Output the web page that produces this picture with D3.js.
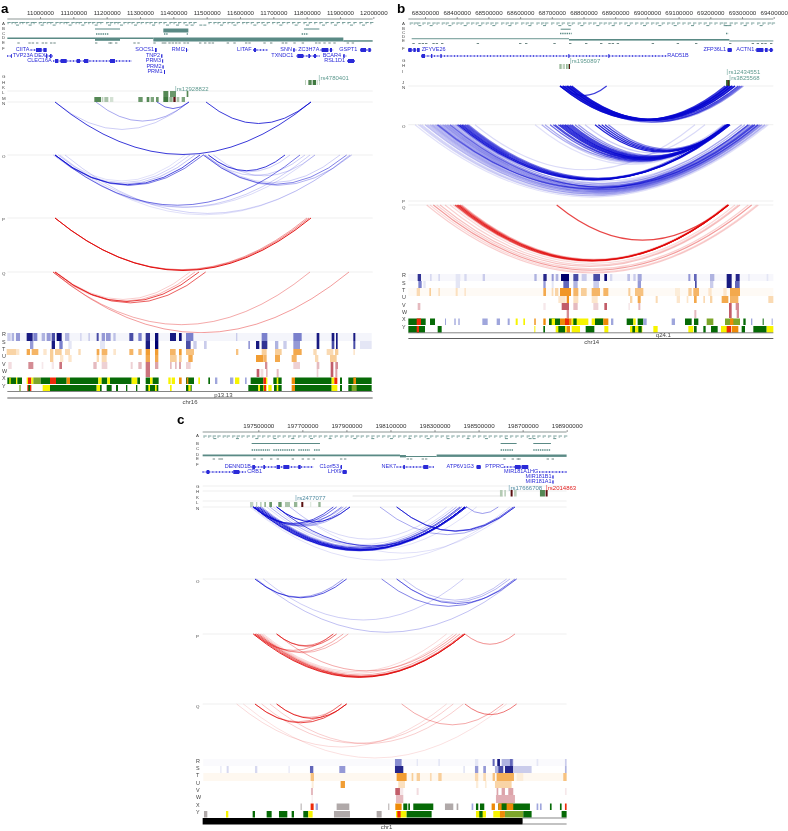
<!DOCTYPE html>
<html><head><meta charset="utf-8">
<style>html,body{margin:0;padding:0;background:#fff}svg{display:block;filter:blur(.3px)}text{font-family:"Liberation Sans",Arial,sans-serif}.soft{filter:blur(.45px)}</style>
<script src="https://cdnjs.cloudflare.com/ajax/libs/d3/7.8.5/d3.min.js"></script></head><body>
<script>
// positions below are bins along each region; bin -> base pair through scales
const tickLabelsA=[11000000,11100000,11200000,11300000,11400000,11500000,11600000,11700000,11800000,11900000,12000000];
const tickLabelsB=[68300000,68400000,68500000,68600000,68700000,68800000,68900000,69000000,69100000,69200000,69300000,69400000];
const tickLabelsC=[197500000,197700000,197900000,198100000,198300000,198500000,198700000,198900000];

// arcs: [startBin,endBin,strength]
const arcsAN=[[165,933,.8],[618,933,.8],[288,567,.35],[165,567,.2],[471,567,.6]];
const arcsAO=[[165,600,.75],[165,610,.55],[160,585,.25],[165,570,.18],[175,555,.12],[625,855,.8],[625,870,.2],[610,1040,.5],[610,1055,.3],[615,1020,.2],[165,900,.55],[165,930,.2],[180,945,.15],[195,1050,.18],[175,1050,.12],[640,945,.2],[615,915,.2]];
const arcsAP=[[165,933,.95],[165,927,.5],[165,921,.4]];
const arcsAQ=[[165,597,.75],[165,617,.65],[159,585,.3],[159,930,.35],[159,1047,.4],[168,570,.2]];
const arcsBN=[[495,990,.8],[495,1000,.8],[500,995,.8],[505,1000,.8],[505,1010,.8],[510,1005,.8],[515,1000,.8],[515,1010,.8],[515,1020,.8],[520,1015,.8],[525,1010,.8],[525,1020,.8],[530,1030,.75],[530,1040,.6],[505,1035,.6],[520,1045,.4],[495,635,.8]];
const arcsBO=[[190,1000,.9],[195,1000,.8],[200,1000,.8],[205,1000,.7],[210,1005,.7],[215,1005,.6],[220,1000,.5],[185,990,.5],[60,1120,.12],[70,1110,.15],[80,1105,.15],[90,1100,.25],[100,1095,.2],[110,1090,.3],[120,1085,.25],[130,1080,.4],[135,1075,.3],[150,1070,.35],[160,1060,.35],[170,1050,.3],[180,1040,.25],[165,1080,.6],[125,1060,.5],[240,900,.15],[75,1115,.15],[95,1110,.2],[105,1100,.25],[115,1095,.25],[128,1090,.35],[140,1088,.3],[145,1075,.4],[155,1065,.4],[175,1090,.25],[185,1075,.2],[200,1060,.2],[215,1040,.15],[420,1000,.12],[440,1000,.2],[450,995,.35],[465,1000,.6],[475,1000,.7],[480,995,.7],[490,1000,.8],[495,1000,.8],[500,1000,.8],[505,995,.8],[510,1000,.9],[515,1005,.7],[520,1000,.7],[525,1000,.7],[530,995,.7],[540,1000,.5],[550,1000,.4],[570,985,.2],[440,930,.15],[600,1000,.9],[610,1000,.9],[620,1000,.85],[630,1000,.8],[640,995,.5]];
const arcsBQ=[[95,1090,.2],[105,1085,.15],[115,1070,.4],[125,1060,.18],[135,1035,.25],[150,1030,.18],[165,1020,.15],[180,1000,.7],[185,1000,.8],[190,1000,.85],[195,1000,.6],[200,995,.3],[175,1000,.2],[485,1000,.75]];
const arcsCN=[[250,885,.8],[255,885,.85],[260,885,.9],[265,885,.8],[250,890,.7],[270,870,.7],[275,860,.35],[265,875,.5],[245,890,.2],[320,540,.85],[320,520,.3],[250,500,.6],[250,515,.5],[255,530,.4],[255,540,.3],[250,490,.7],[320,890,.7],[360,830,.15],[300,850,.15],[680,1035,.7],[680,1030,.6],[630,1035,.35],[890,985,.4],[240,1020,.12],[360,1035,.12],[290,920,.12],[300,885,.2],[310,875,.15]];
const arcsCO=[[255,530,.7],[255,520,.4],[680,1040,.55],[680,1020,.3],[700,1010,.25],[635,1035,.5],[280,880,.2],[260,1040,.25]];
const arcsCP=[[250,885,.85],[255,885,.7],[260,880,.55],[265,885,.6],[270,870,.35],[275,850,.18],[280,830,.15],[320,500,.6],[320,490,.5],[250,490,.4],[255,520,.35],[260,535,.3],[320,860,.35],[885,1035,.45]];
const arcsCQ=[[255,530,.75],[255,515,.4],[320,530,.8],[320,515,.3],[200,830,.15],[275,850,.2],[300,880,.2],[695,1000,.35],[885,1040,.55],[220,1010,.12]];

// signal tracks: [startBin,endBin,level]
const rA=[[22,1115,.04],[22,32,.2],[35,42,.3],[48,60,.4],[80,98,.9],[100,112,.5],[125,135,.3],[140,152,.4],[155,165,.7],[170,185,.95],[195,208,.3],[240,245,.15],[265,270,.2],[290,296,.7],[305,315,.4],[318,332,.4],[340,347,.25],[388,400,.7],[415,425,.5],[437,450,.8],[465,475,.95],[510,528,.9],[537,545,.95],[558,580,.5],[708,712,.2],[785,802,.5],[880,905,.5],[950,958,.9],[995,1003,.9],[1008,1013,.9],[1060,1066,.9]];
const sA=[[90,100,.4],[155,165,.9],[178,188,.5],[205,215,.1],[300,315,.1],[437,450,.9],[465,475,1],[558,572,.7],[580,590,.2],[612,620,.2],[745,750,.4],[768,778,.9],[785,802,.8],[825,835,.3],[850,860,.2],[880,900,.4],[950,958,.9],[995,1003,.7],[1008,1013,.9],[1060,1066,.7],[1080,1115,.1]];
const tA=[[20,50,.35],[48,58,.2],[80,90,.7],[95,115,.6],[130,140,.2],[150,160,.4],[165,185,.4],[195,210,.3],[235,242,.3],[290,298,.7],[305,322,.6],[340,348,.2],[388,400,.6],[415,425,.55],[437,450,.8],[465,475,.8],[510,527,.6],[537,545,.8],[558,582,.5],[708,715,.5],[785,800,.4],[825,845,.4],[880,905,.7],[940,950,.3],[980,1000,.3],[1005,1015,.4],[1060,1065,.2]];
const uA=[[150,160,.4],[180,190,.2],[205,215,.2],[290,297,.3],[305,320,.3],[437,450,.7],[465,475,.7],[510,530,.4],[537,545,.4],[565,578,.7],[768,790,.8],[790,800,.6],[825,840,.7],[875,890,.6],[945,955,.3],[990,1010,.4]];
const vA=[[25,35,.15],[85,100,.5],[125,130,.1],[155,162,.1],[178,186,.6],[280,290,.3],[305,322,.2],[392,398,.2],[415,425,.3],[437,450,.6],[465,475,.4],[510,515,.3],[525,530,.3],[537,543,.4],[558,572,.2],[795,802,.5],[880,900,.2],[950,958,.3],[992,1000,.7],[1006,1014,.5]];
const wA=[[437,450,.6],[770,778,.7],[782,790,.15],[798,803,.3],[830,836,.3],[950,955,.2],[992,1000,.7],[1006,1012,.4]];
const rB=[[40,1135,.03],[68,78,.8],[105,110,.15],[130,135,.15],[182,196,.1],[208,215,.15],[263,270,.2],[418,425,.3],[445,455,.85],[470,476,.4],[482,490,.3],[498,522,1],[535,550,.7],[560,575,.2],[595,615,.7],[628,636,.95],[645,652,.15],[697,705,.25],[715,722,.2],[728,740,.35],[880,886,.4],[897,905,.6],[945,958,.3],[995,1010,.9],[1022,1034,.85],[1060,1064,.1],[1115,1120,.1]];
const sB=[[70,80,.5],[85,92,.1],[182,195,.1],[445,452,.4],[470,476,.1],[505,522,.6],[535,548,.3],[595,612,.2],[728,738,.4],[900,905,.7],[945,955,.2],[995,1010,.9],[1020,1034,.6]];
const tB=[[40,1135,.04],[65,75,.3],[103,108,.4],[130,135,.25],[182,188,.25],[208,213,.2],[445,453,.7],[470,475,.3],[480,490,.35],[495,528,.85],[535,550,.6],[558,575,.4],[590,615,.6],[625,640,.6],[700,706,.4],[720,745,.5],[840,855,.15],[880,890,.4],[895,912,.6],[940,950,.2],[985,995,.2],[1005,1035,.7]];
const uB=[[490,512,.2],[515,522,.9],[535,550,.25],[590,608,.2],[705,712,.35],[728,737,.7],[782,788,.3],[845,855,.2],[875,880,.2],[897,905,.7],[925,930,.3],[945,952,.35],[980,1000,.7],[1005,1030,.6],[1120,1135,.3]];
const vB=[[68,76,.3],[445,452,.1],[500,522,.7],[535,548,.3],[595,610,.2],[628,636,.7],[700,705,.1],[730,736,.3],[1002,1010,.7],[1022,1032,.5]];
const wB=[[515,522,.5],[898,904,.3],[1002,1010,.7],[1025,1032,.5]];
const rC=[[100,1190,.02],[675,695,.45],[740,744,.1],[805,810,.1],[915,925,.1],[968,974,.6],[982,990,.9],[995,1030,.3],[1020,1028,.6],[1100,1105,.1],[1185,1190,.2]];
const sC=[[150,155,.07],[170,176,.15],[255,262,.15],[355,360,.07],[420,430,.6],[508,526,.4],[675,700,.85],[880,885,.1],[915,925,.4],[940,948,.4],[975,985,.3],[985,1000,.7],[1005,1030,.85],[1030,1085,.2],[1185,1190,.3]];
const tC=[[100,1190,.06],[422,432,.5],[680,710,.8],[725,730,.4],[740,750,.4],[780,785,.3],[805,815,.4],[915,925,.3],[940,948,.3],[968,975,.5],[980,1032,.65],[1040,1060,.15],[1180,1190,.5]];
const uC=[[425,431,.15],[512,525,.8],[685,705,.25],[918,925,.15],[945,950,.15],[975,1025,.35]];
const vC=[[423,429,.3],[676,690,.7],[690,700,.1],[740,746,.15],[980,985,.4],[995,1005,.4],[1015,1030,.4],[1185,1190,.1]];
const wC=[[425,428,.1],[678,700,.3],[978,1035,.35]];

// chromatin state tracks: [startBin,endBin,state]
const xA=[[22,48,'g'],[28,32,'y'],[48,52,'y'],[52,66,'g'],[80,84,'y'],[84,94,'r'],[94,100,'y'],[100,122,'m'],[122,150,'g'],[150,168,'r'],[168,200,'g'],[200,210,'o'],[210,295,'g'],[295,305,'y'],[305,322,'g'],[322,330,'y'],[330,395,'g'],[395,412,'y'],[412,420,'g'],[437,450,'g'],[450,458,'y'],[458,476,'g'],[505,512,'y'],[515,525,'y'],[537,545,'o'],[558,582,'g'],[560,565,'o'],[595,600,'y'],[625,630,'g'],[645,652,'b'],[690,700,'b'],[705,718,'y'],[735,740,'b'],[752,790,'g'],[790,798,'r'],[798,802,'y'],[820,845,'g'],[830,835,'y'],[875,885,'o'],[885,995,'g'],[995,1003,'y'],[1003,1012,'r'],[1020,1026,'g'],[1045,1115,'g'],[1060,1068,'o']];
const yA=[[58,62,'m'],[82,94,'r'],[85,90,'g'],[128,150,'y'],[150,290,'g'],[290,300,'y'],[300,305,'g'],[320,335,'g'],[348,354,'g'],[378,382,'g'],[408,412,'g'],[437,475,'g'],[445,450,'y'],[465,470,'y'],[510,515,'y'],[558,575,'g'],[565,572,'y'],[745,775,'g'],[775,800,'y'],[780,790,'g'],[792,798,'r'],[805,815,'y'],[822,845,'g'],[830,835,'y'],[875,885,'o'],[885,995,'g'],[995,1012,'y'],[1020,1026,'g'],[1045,1115,'g'],[1055,1070,'m']];
const xB=[[40,92,'g'],[65,78,'r'],[105,120,'g'],[150,153,'b'],[178,182,'b'],[190,194,'b'],[262,278,'b'],[305,315,'b'],[338,344,'b'],[362,368,'y'],[385,390,'y'],[418,422,'o'],[445,452,'o'],[462,495,'g'],[470,480,'y'],[495,530,'o'],[510,522,'r'],[530,580,'y'],[535,545,'g'],[590,625,'y'],[600,625,'g'],[625,640,'o'],[648,655,'b'],[695,715,'g'],[715,722,'y'],[728,745,'g'],[745,755,'b'],[830,840,'b'],[870,890,'g'],[897,910,'g'],[935,955,'m'],[990,1035,'m'],[1005,1015,'o'],[1045,1052,'g'],[1068,1072,'b'],[1103,1106,'g'],[1130,1133,'b']];
const yB=[[40,90,'g'],[65,72,'r'],[128,140,'g'],[418,421,'y'],[445,450,'g'],[482,515,'y'],[490,510,'g'],[515,525,'o'],[530,555,'y'],[572,598,'g'],[628,640,'y'],[705,742,'y'],[712,720,'g'],[730,740,'g'],[775,788,'y'],[880,895,'y'],[897,905,'g'],[925,932,'g'],[948,968,'g'],[978,1000,'y'],[995,1008,'r'],[1010,1030,'o'],[1040,1050,'g'],[1075,1115,'g'],[1115,1135,'y']];
const xC=[[392,395,'a'],[422,431,'r'],[437,444,'b'],[500,538,'a'],[655,658,'a'],[676,695,'o'],[700,712,'g'],[715,720,'g'],[730,790,'g'],[825,850,'a'],[860,865,'a'],[905,910,'b'],[918,925,'g'],[930,943,'g'],[965,975,'o'],[985,1080,'g'],[985,1030,'o'],[995,1010,'g'],[1100,1105,'b'],[1110,1115,'b'],[1140,1145,'g'],[1170,1175,'g'],[1185,1190,'r']];
const yC=[[102,112,'a'],[168,175,'y'],[248,255,'g'],[290,305,'g'],[327,352,'g'],[365,372,'g'],[400,415,'g'],[415,428,'y'],[492,540,'a'],[620,635,'a'],[678,710,'y'],[682,692,'r'],[710,785,'g'],[918,948,'y'],[928,938,'g'],[970,1000,'y'],[990,1005,'o'],[1005,1060,'m'],[1060,1085,'g'],[1175,1190,'g']];

// repeat and conservation dashes, by bin
const repUpA=[22,34,44,58,66,78,92,100,116,128,140,150,166,178,190,198,214,226,236,252,264,276,290,300,318,330,342,352,370,382,394,410,422,436,448,462,476,490,508,520,534,550,566,580,625,640,652,668,682,694,710,726,738,752,770,784,800,816,830,846,860,876,892,910,926,942,958,976,992,1010,1026,1042,1060,1078,1096,1110];
const repLoA=[48,86,122,158,206,244,284,324,360,402,456,498,528,556,572,598,610,660,700,760,790,838,884,918,966,1002,1050,1086];
const consA=[52,85,95,108,125,135,150,160,285,325,330,345,400,412,460,485,492,505,515,525,535,550,560,597,612,625,635,680,700,735,745,790,810,845,855,880,905,945,955,970,985,1000,1040,1055];
const repUpB=[44,56,66,82,96,112,124,140,152,170,184,196,214,228,242,258,272,286,300,318,332,346,360,378,392,406,424,438,450,468,484,500,516,530,548,564,580,594,612,626,640,656,672,688,704,720,736,752,768,782,800,816,830,846,862,878,894,910,926,942,958,974,986,1004,1018,1036,1052,1068,1086,1102,1118,1130];
const repLoB=[70,104,160,206,250,292,340,400,444,490,520,556,604,650,696,744,790,836,888,934,986,992,1000,1046,1094];
const consB=[52,70,80,90,112,122,138,245,372,390,475,522,570,615,640,650,665,770,845,900,1002,1070,1085,1098,1108,1125];
const repUpC=[100,114,128,142,158,170,186,200,214,230,246,262,276,292,308,322,338,354,368,384,400,416,430,446,462,478,494,510,526,542,558,572,588,604,620,636,652,668,684,700,716,732,748,764,780,796,812,828,844,860,876,892,908,924,940,956,972,988,1004,1020,1036,1052,1070,1086,1102,1118,1134,1150,1166,1182];
const repLoC=[130,198,256,310,364,420,476,550,604,660,715,770,830,890,945,1005,1076,1088,1150];
const consC=[128,145,152,250,272,300,320,365,395,412,428,510,522,710,720,755,765,1000,1025,1040,1045,1130,1145];

// sub-dashes of the dense C track
const denseCA=[[288,325],[492,505],[560,564],[905,925]];
const denseCB=[[495,530],[993,1000]];
const denseCC=[[245,300],[310,375],[385,420],[432,450],[992,1030],[1090,1143]];

// genes: [name,labelBin,anchor,row,geneStart,geneEnd,exons]
const genesA=[['CIITA',88,'end',0,92,140,[[108,125],[130,140]]],['SOCS1',462,'end',0,465,470,[[465,470]]],['RMI2',555,'end',0,558,565,[[558,561]]],['LITAF',755,'end',0,760,802,[[762,768]]],['SNN',876,'end',0,880,890,[[880,884]]],['ZC3H7A',958,'end',0,962,1000,[[965,985],[990,996]]],['GSPT1',1072,'end',0,1080,1115,[[1082,1098],[1105,1112]]],
['TVP23A',38,'start',1,22,35,[[33,35]]],['DEXI',103,'start',1,137,158,[[138,142],[150,155]]],['TNP2',480,'end',1,484,487,[[484,487]]],['TXNDC1',880,'end',1,890,960,[[892,910],[925,930],[942,948]]],['BCAR4',1023,'end',1,1030,1040,[[1030,1034]]],
['CLEC16A',155,'end',2,160,395,[[165,175],[182,200],[230,240],[252,265],[330,345]]],['PRM3',483,'end',2,487,489,[[487,489]]],['RSL1D1',1035,'end',2,1042,1065,[[1044,1062]]],
['PRM2',485,'end',3,488,490,[[488,490]]],['PRM1',488,'end',4,492,495,[[492,495]]]];
const genesB=[['',75,'end',0,40,75,[[40,50],[55,62],[66,74]]],['ZFYVE26',80,'start',0,80,80,[]],['ZFP36L1',993,'end',0,998,1010,[[998,1010]]],['ACTN1',1078,'end',0,1082,1135,[[1084,1105],[1110,1118],[1125,1132]]],
['RAD51B',817,'start',1,78,815,[[80,90],[108,112],[136,140],[520,523],[640,643]]]];
const genesC=[['DENND1B',243,'end',0,245,430,[[247,255],[280,285],[320,330],[340,358],[385,392]]],['C1orf53',507,'end',0,512,516,[[512,516]]],['NEK7',678,'end',0,680,792,[[700,705],[760,775]]],['ATP6V1G3',912,'end',0,920,932,[[920,932]]],['PTPRC',1002,'end',0,1002,1075,[[1035,1052],[1055,1075]]],
['CRB1',232,'start',1,98,228,[[110,118],[190,208]]],['LHX9',515,'end',1,518,530,[[518,530]]],['MIR181A1HG',1105,'end',1,1108,1190,[]],
['MIR181B1',1145,'end',2,1148,1150,[[1148,1150]]],['MIR181A1',1145,'end',3,1148,1150,[[1148,1150]]]];

// LD blocks: [startBin,endBin,level]
const ldA1=[[915,918,.3],[925,935,.8],[938,948,.9],[950,953,.3],[957,960,.2]];
const ldA2=[[490,505,.8],[510,528,.7],[560,565,.8]];
const ldA3=[[283,303,.8],[305,310,.3],[313,325,.4],[330,340,.2],[415,428,.7],[440,448,.8],[452,462,.6],[468,476,.7],[490,505,.9],[508,518,.5],[530,538,.4],[545,555,.6]];
const ldB1=[[493,500,.45],[503,510,.3],[513,518,.5],[520,525,.7]];
const ldB2=[[993,1005,.9]];
const ldC1=[[990,998,.35],[1003,1008,.3],[1032,1040,.3],[1110,1125,.8]];
const ldC2=[[240,250,.3],[258,262,.3],[270,275,.3],[283,288,.5],[298,306,.7],[325,335,.7],[345,360,.4],[372,382,.5],[420,424,.15],[445,452,.5]];
const snpA=['rs4780401','rs12928822'];
const snpABins=[958,527];
const leadA=[[520,527]];
const snpB=['rs1950897','rs12434551','rs3825568'];
const snpBBins=[527,997,1005];
const leadB=[[522,525],[998,1001]];
const snpC=['rs2477077','rs17666708'];
const snpCBins=[378,1018];
const snpCred=['rs2014863'];
const snpCredBins=[1130];
const leadC=[[394,400],[1022,1028],[1127,1133]];
const trackNames=['R','S','T','U','V','W','X','Y'];

const stateColor={g:'#066a06',m:'#7da62a',y:'#f7f400',o:'#ee8a08',r:'#ee2a08',b:'#9fa6dc',a:'#b0a9a9'};
const blue=d3.scaleLinear().domain([0,.5,1]).range(['#fff','#7a80cc','#00006e']);
const orange=d3.scaleLinear().domain([0,1]).range(['#fff','#ee8400']);
const dred=d3.scaleLinear().domain([0,1]).range(['#fff','#a81828']);
const green=d3.scaleLinear().domain([0,1]).range(['#fff','#2a6a2a']);
const TEAL='#5a8a85', GENE='#2a2ad8', ARC_BLUE='#0808d0', ARC_RED='#e00808', ASPECT=.205;

const svg=d3.select('body').append('svg').attr('width',788).attr('height',831).attr('viewBox','0 0 788 831');

function drawPanel(c){
  const g=svg.append('g');
  const x=d3.scaleLinear().domain(c.domain).range(c.range);
  const bp=b=>x(c.origin+b*c.binSize);
  const lab=(s,xx,yy,o={})=>g.append('text').attr('x',xx).attr('y',yy).text(s).attr('font-size',o.size||5.5).attr('fill',o.fill||'#444').attr('text-anchor',o.anchor||'start').attr('dominant-baseline','middle');
  // panel letter
  g.append('text').attr('x',c.letterX).attr('y',c.letterY).text(c.letter).attr('font-size',13.5).attr('font-weight','bold').attr('fill','#000');
  // left letters
  c.labels.forEach(([s,yy])=>lab(s,c.labelX,yy,{size:4.4}));
  // axis
  const ax=d3.axisTop(x).tickValues(c.ticks).tickFormat(d3.format('d')).tickSize(2).tickPadding(2);
  const ag=g.append('g').attr('transform',`translate(0,${c.axisY})`).call(ax);
  ag.select('.domain').attr('d',`M${bp(c.start)},0H${bp(c.end)}`).attr('stroke','#5c6a68').attr('stroke-width',.7);
  ag.selectAll('line').attr('stroke','#555').attr('stroke-width',.6);
  ag.selectAll('text').attr('font-size',6.2).attr('fill','#333').attr('font-family','"Liberation Sans",Arial,sans-serif');
  // repeats
  const dash=(arr,yy,w,col,sw)=>g.append('g').selectAll('line').data(arr).join('line').attr('x1',d=>bp(d)).attr('x2',d=>bp(d)+w).attr('y1',yy).attr('y2',yy).attr('stroke',col).attr('stroke-width',sw);
  dash(c.repUp,c.aY,3.4,TEAL,.8); dash(c.repLo,c.aY+2.6,3,TEAL,.9);
  dash(c.repUp,c.aY+1.2,1.5,TEAL,.6);
  // B, C, D, E
  c.bBars.forEach(([s,e,h])=>g.append('rect').attr('x',bp(s)).attr('width',bp(e)-bp(s)).attr('y',c.bY).attr('height',h).attr('fill',TEAL));
  g.append('g').selectAll('line').data(c.cDash).join('line').attr('x1',d=>bp(d[0])).attr('x2',d=>bp(d[1])).attr('y1',c.cY).attr('y2',c.cY).attr('stroke',TEAL).attr('stroke-width',1.4).attr('stroke-dasharray','1.4 .8');
  c.dBars.forEach(([s,e,y0,h])=>g.append('rect').attr('x',bp(s)).attr('width',bp(e)-bp(s)).attr('y',y0).attr('height',h).attr('fill',TEAL));
  dash(c.cons,c.eY,2.4,'#4a6a66',.8);
  // genes
  c.genes.forEach(([name,lb,anc,row,s,e,ex])=>{
    const yy=c.geneRows[row];
    if(name) lab(name,bp(lb),yy,{fill:GENE,anchor:anc});
    if(e>s){
      g.append('line').attr('x1',bp(s)).attr('x2',bp(e)).attr('y1',yy).attr('y2',yy).attr('stroke',GENE).attr('stroke-width',.5);
      g.append('line').attr('x1',bp(s)).attr('x2',bp(e)).attr('y1',yy).attr('y2',yy).attr('stroke',GENE).attr('stroke-width',2).attr('stroke-dasharray','.7 2.6');
      ex.forEach(([a,b])=>g.append('rect').attr('x',bp(a)).attr('width',Math.max(.8,bp(b)-bp(a))).attr('y',yy-2).attr('height',4).attr('fill',GENE));
    }
  });
  // light rules
  c.rules.forEach(([s,e,yy,col])=>g.append('line').attr('x1',bp(s)).attr('x2',bp(e)).attr('y1',yy).attr('y2',yy).attr('stroke',col||'#e8e8e8').attr('stroke-width',.7));
  // LD blocks
  c.ld.forEach(([arr,y0,h])=>g.append('g').selectAll('rect').data(arr).join('rect').attr('x',d=>bp(d[0])).attr('width',d=>bp(d[1])-bp(d[0])).attr('y',y0).attr('height',h).attr('fill',d=>green(d[2])));
  c.leads.forEach(([arr,y0,h])=>g.append('g').selectAll('rect').data(arr).join('rect').attr('x',d=>bp(d[0])).attr('width',d=>bp(d[1])-bp(d[0])).attr('y',y0).attr('height',h).attr('fill','#5a1010'));
  // SNP labels with a bar beside them
  c.snps.forEach(([names,bins,ys,col])=>names.forEach((s,i)=>{
    lab(s,bp(bins[i])+1.2,ys[i],{fill:col,size:6});
    g.append('line').attr('x1',bp(bins[i])).attr('x2',bp(bins[i])).attr('y1',ys[i]-3).attr('y2',ys[i]+3).attr('stroke',col).attr('stroke-width',.5);
  }));
  // arcs
  c.arcs.forEach(([arr,y0,col])=>{
    g.append('g').selectAll('path').data(arr).join('path').attr('fill','none').attr('stroke',col).attr('stroke-width',c.arcWidth).attr('stroke-opacity',d=>d[2])
      .attr('d',d=>{const a=bp(d[0]),b=bp(d[1]),p=d3.path(),dp=(b-a)*ASPECT;p.moveTo(a,y0);p.quadraticCurveTo((a+b)/2,y0+2*dp,b,y0);return p.toString();});
  });
  // signal tracks
  const sg=g.append('g').attr('class','soft');
  c.signal.forEach((arr,i)=>{
    const sc=[blue,blue,orange,orange,dred,dred][i];
    sg.append('g').selectAll('rect').data(arr).join('rect').attr('x',d=>bp(d[0])).attr('width',d=>bp(d[1])-bp(d[0])).attr('y',c.bandY[i]).attr('height',c.bandY[i+1]-c.bandY[i]).attr('fill',d=>sc(d[2]));
  });
  c.states.forEach(([arr,y0,h])=>sg.append('g').selectAll('rect').data(arr).join('rect').attr('x',d=>bp(d[0])).attr('width',d=>bp(d[1])-bp(d[0])).attr('y',y0).attr('height',h).attr('fill',d=>stateColor[d[2]]));
  // ideogram
  c.ideo(g,bp,lab);
  c.labels2.forEach(([s,yy])=>lab(s,c.labelX,yy,{size:5.4}));
}

const rowNames=(ys)=>trackNames.map((n,i)=>[n,ys[i]]);
drawPanel({letter:'a',letterX:1,letterY:12.5,labelX:2,domain:[10900000,12000000],range:[6.67,373.33],origin:10880000,binSize:1000,start:22,end:1118,ticks:tickLabelsA,axisY:19,aY:22.5,arcWidth:1,
 labels:[['A',24],['B',29],['C',33.5],['D',37.5],['E',42.5],['F',49],['G',77],['H',83],['K',88],['L',93],['M',99],['N',104],['O',157],['P',220],['Q',274]],labels2:rowNames([335,343,350,357,365,372,379,387]),
 repUp:repUpA,repLo:repLoA,cons:consA,bY:28.5,bBars:[[285,360,1],[490,565,4],[912,958,1]],cY:34,cDash:denseCA,
 dBars:[[22,460,37.5,1.5],[285,360,39,1.8],[460,1030,37.5,4],[1030,1118,40.2,1.5]],eY:43,genes:genesA,geneRows:[50,56,61,67,72],
 rules:[[22,1118,91],[22,1118,102],[22,1118,155],[22,1118,218],[22,1118,272]],
 ld:[[ldA1,80,5],[ldA2,91,6],[ldA3,97,5]],leads:[[leadA,97,5]],snps:[[snpA,snpABins,[78,89],'#5f9a90']],
 arcs:[[arcsAN,102,ARC_BLUE],[arcsAO,155,ARC_BLUE],[arcsAP,218,ARC_RED],[arcsAQ,272,ARC_RED]],
 signal:[rA,sA,tA,uA,vA,wA],bandY:[333,341,349,355,362,369,377],states:[[xA,377.5,6.5],[yA,385,6]],
 ideo:(g,bp,lab)=>{
  g.append('line').attr('x1',bp(22)).attr('x2',bp(1118)).attr('y1',391.5).attr('y2',391.5).attr('stroke','#333').attr('stroke-width',.6);
  g.append('line').attr('x1',bp(22)).attr('x2',bp(1118)).attr('y1',398).attr('y2',398).attr('stroke','#333').attr('stroke-width',.8);
  lab('p13.13',bp(670),395,{anchor:'middle',size:6});lab('chr16',bp(570),402,{anchor:'middle',size:6});
 }});
drawPanel({letter:'b',letterX:397,letterY:12.5,labelX:402,domain:[68300000,69400000],range:[425,773.7],origin:68205400,binSize:1051.5,start:40,end:1135,ticks:tickLabelsB,axisY:19,aY:23,arcWidth:1.1,
 labels:[['A',23.5],['B',29],['C',33],['D',37],['E',41],['F',49],['G',61],['H',66],['I',72],['J',83],['N',88],['O',127],['P',202],['Q',208]],labels2:rowNames([276,284,291,298,306,313,320,328]),
 repUp:repUpB,repLo:repLoB,cons:consB,bY:28.7,bBars:[[497,527,1]],cY:33.5,cDash:denseCB,
 dBars:[[50,522,38.3,.9],[522,1003,39,1.6],[1003,1135,40.5,.9]],eY:43.5,genes:genesB,geneRows:[50,56],
 rules:[[40,1135,86],[40,1135,124.7],[40,1135,201],[40,1135,205]],
 ld:[[ldB1,64,5],[ldB2,80,6]],leads:[[leadB.slice(0,1),64,5],[leadB.slice(1),80,6]],snps:[[snpB,snpBBins,[61,72,78],'#5f9a90']],
 arcs:[[arcsBN,86,ARC_BLUE],[arcsBO,124.7,ARC_BLUE],[arcsBQ,205,ARC_RED]],
 signal:[rB,sB,tB,uB,vB,wB],bandY:[274,281,288,296,303,310,318],states:[[xB,318.5,6.5],[yB,326,6.5]],
 ideo:(g,bp,lab)=>{
  g.append('line').attr('x1',bp(40)).attr('x2',bp(1135)).attr('y1',332.8).attr('y2',332.8).attr('stroke','#333').attr('stroke-width',.6);
  g.append('line').attr('x1',bp(40)).attr('x2',bp(1135)).attr('y1',338.5).attr('y2',338.5).attr('stroke','#333').attr('stroke-width',.8);
  lab('q24.1',bp(805),335.5,{anchor:'middle',size:6});lab('chr14',bp(590),342.5,{anchor:'middle',size:6});
 }});
drawPanel({letter:'c',letterX:177,letterY:424,labelX:196,domain:[197500000,198900000],range:[258.3,566.7],origin:197099100,binSize:1513,start:98,end:1190,ticks:tickLabelsC,axisY:432,aY:436,arcWidth:1,
 labels:[['A',436],['B',444],['C',449],['D',455],['E',459],['F',465],['G',487],['H',492],['K',498],['L',503],['N',509],['O',582],['P',637],['Q',707]],labels2:rowNames([762,769,776,784,791,798,806,813]),
 repUp:repUpC,repLo:repLoC,cons:consC,bY:443,bBars:[[245,450,1],[992,1040,1],[1090,1143,1]],cY:450,cDash:denseCC,
 dBars:[[98,690,454.5,1.8],[690,708,455,2.4],[708,800,456,1],[800,1190,454.5,2.4]],eY:459,genes:genesC,geneRows:[467,472,477,482],
 rules:[[98,1190,486],[98,1190,491],[548,1000,496,'#d8d8d8'],[98,1190,501],[98,1190,507],[98,1190,579],[98,1190,634],[98,1190,704]],
 ld:[[ldC1,490,6.5],[ldC2,502,5]],leads:[[leadC.slice(0,1),502,5],[leadC.slice(1,2),490,6.5],[leadC.slice(2),490,6.5]],snps:[[snpC,snpCBins,[498,488],'#4f8aa0'],[snpCred,snpCredBins,[488],'#e02020']],
 arcs:[[arcsCN,507,ARC_BLUE],[arcsCO,579,ARC_BLUE],[arcsCP,634,ARC_RED],[arcsCQ,704,ARC_RED]],
 signal:[rC,sC,tC,uC,vC,wC],bandY:[759,766,773,781,788,795,803],states:[[xC,803.5,6.5],[yC,811,6.5]],
 ideo:(g,bp,lab)=>{
  g.append('rect').attr('x',bp(98)).attr('width',bp(1058)-bp(98)).attr('y',818).attr('height',6.5).attr('fill','#000');
  g.append('line').attr('x1',bp(1058)).attr('x2',bp(1190)).attr('y1',818).attr('y2',818).attr('stroke','#555').attr('stroke-width',.7);
  g.append('line').attr('x1',bp(1058)).attr('x2',bp(1190)).attr('y1',824).attr('y2',824).attr('stroke','#555').attr('stroke-width',.7);
  lab('chr1',bp(650),827.5,{anchor:'middle',size:6});
 }});
</script></body></html>
